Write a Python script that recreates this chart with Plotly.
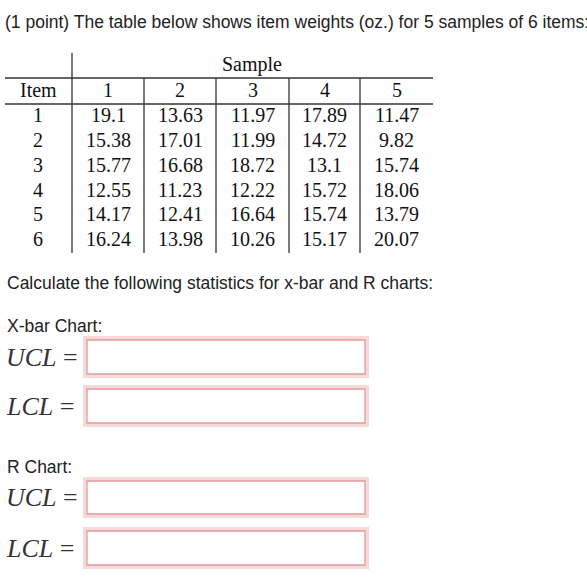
import plotly.graph_objects as go

samples = ["1", "2", "3", "4", "5"]
items = ["1", "2", "3", "4", "5", "6"]
values = [
    ["19.1", "13.63", "11.97", "17.89", "11.47"],
    ["15.38", "17.01", "11.99", "14.72", "9.82"],
    ["15.77", "16.68", "18.72", "13.1", "15.74"],
    ["12.55", "11.23", "12.22", "15.72", "18.06"],
    ["14.17", "12.41", "16.64", "15.74", "13.79"],
    ["16.24", "13.98", "10.26", "15.17", "20.07"],
]
title = "(1 point) The table below shows item weights (oz.) for 5 samples of 6 items:"
calc = "Calculate the following statistics for x-bar and R charts:"

fig = go.Figure()
ann = []
shapes = []
serif = dict(family="Liberation Serif, DejaVu Serif", size=20, color="#111")
sans = dict(family="Liberation Sans, Arial", size=17.5, color="#222")

ann.append(dict(x=3, y=22, text=title, xanchor="left", font=sans))
col_edges = [72, 144, 216, 289, 360, 433]
row_y = [115, 140, 165, 190, 214, 239]
ann.append(dict(x=252, y=64, text="Sample", font=serif))
ann.append(dict(x=38, y=90, text="Item", font=serif))
for j, s in enumerate(samples):
    cx = (col_edges[j] + col_edges[j + 1]) / 2
    ann.append(dict(x=cx, y=90, text=s, font=serif))
for i, it in enumerate(items):
    ann.append(dict(x=38, y=row_y[i], text=it, font=serif))
    for j in range(len(samples)):
        cx = (col_edges[j] + col_edges[j + 1]) / 2
        ann.append(dict(x=cx, y=row_y[i], text=values[i][j], font=serif))

line = dict(color="#333", width=1.3)
shapes.append(dict(type="line", x0=5, x1=433, y0=78, y1=78, line=line))
shapes.append(dict(type="line", x0=5, x1=433, y0=104, y1=104, line=line))
shapes.append(dict(type="line", x0=72, x1=72, y0=53, y1=253, line=line))
for x in col_edges[1:-1]:
    shapes.append(dict(type="line", x0=x, x1=x, y0=78, y1=253, line=line))

ann.append(dict(x=5, y=283, text=calc, xanchor="left", font=sans))
ann.append(dict(x=5, y=326, text="X-bar Chart:", xanchor="left", font=sans))
ann.append(dict(x=5, y=467, text="R Chart:", xanchor="left", font=sans))

labels = ["UCL", "LCL", "UCL", "LCL"]
boxes = [(340, 374), (389, 423), (481, 514), (531, 565)]
ifont = dict(family="Liberation Serif, DejaVu Serif", size=26, color="#333")
for lab, (y0, y1) in zip(labels, boxes):
    cy = (y0 + y1) / 2
    ann.append(dict(x=4, y=cy, text="<i>" + lab + "</i> =", xanchor="left", font=ifont))
    shapes.append(dict(type="rect", x0=85, x1=367, y0=y0 - 2, y1=y1 + 2,
                       line=dict(color="rgba(240,170,170,0.45)", width=4)))
    shapes.append(dict(type="rect", x0=87, x1=365, y0=y0, y1=y1, fillcolor="white",
                       line=dict(color="#e09a9a", width=1.3)))

for a in ann:
    a.update(xref="x", yref="y", showarrow=False)

fig.update_layout(
    width=587, height=588, margin=dict(l=0, r=0, t=0, b=0),
    paper_bgcolor="white", plot_bgcolor="white",
    xaxis=dict(range=[0, 587], visible=False, fixedrange=True),
    yaxis=dict(range=[588, 0], visible=False, fixedrange=True),
    annotations=ann, shapes=shapes, showlegend=False,
)
fig.write_html("out.html", config={"displayModeBar": False},
               post_script="document.body.style.margin='0';document.body.style.overflow='hidden';")
